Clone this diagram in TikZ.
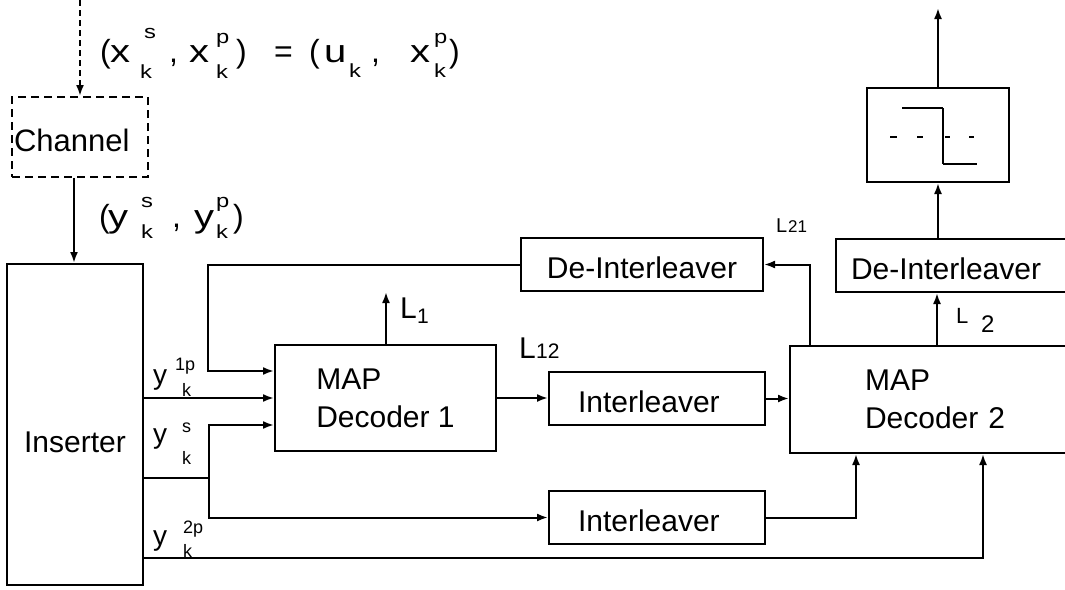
\documentclass[tikz,border=0pt]{standalone}
\usepackage{fontspec}
\usepackage{graphicx}
\setmainfont{Liberation Sans}
\usetikzlibrary{arrows.meta}
\newcommand\wx[1]{\scalebox{1.25}[1]{#1}}
\begin{document}
\begin{tikzpicture}[x=1pt,y=-1pt,
  every node/.style={inner sep=0pt},
  blk/.style={draw, line width=2pt, rectangle, font=\fontsize{30}{38}\selectfont},
  bt/.style={text height=27pt, text depth=0pt},
  g/.style={anchor=base west, inner sep=0pt, font=\fontsize{32}{34}\selectfont},
  sc/.style={anchor=base west, inner sep=0pt, font=\fontsize{19}{19}\selectfont},
  yl/.style={anchor=base west, inner sep=0pt, font=\fontsize{28}{30}\selectfont},
  ys/.style={anchor=base west, inner sep=0pt, font=\fontsize{18}{18}\selectfont},
  arr/.style={line width=2pt, -{Latex[length=11pt,width=8pt]}},
]
\clip (0,0) rectangle (1065,589);
% blocks
\node[blk, dashed, dash pattern=on 8pt off 5pt, minimum width=136pt, minimum height=80pt,
      text width=132pt, align=left, inner xsep=2pt, text height=28pt, text depth=0pt,
      font=\fontsize{31}{36}\selectfont] (chan) at (80,137) {Channel};
\node[blk, minimum width=136pt, minimum height=321pt, text height=55pt, text depth=0pt] (ins) at (75,424.5) {Inserter};
\node[blk, minimum width=221pt, minimum height=106pt, align=left] (map1) at (385.5,398) {MAP\\Decoder 1};
\node[blk, anchor=west, minimum height=107pt, text width=170pt, inner xsep=75pt, align=left] (map2) at (789,399.5) {MAP\\Decoder 2};
\node[blk, bt, minimum width=242pt, minimum height=53pt] (deint1) at (642,264.5) {De-Interleaver};
\node[blk, bt, anchor=west, minimum height=53pt, text width=230pt, inner xsep=15pt, align=left] (deint2) at (835,265.5) {De-Interleaver};
\node[blk, bt, anchor=west, minimum height=53pt, text width=186pt, inner xsep=15pt, align=left] (int1) at (548,398.5) {\hspace{14pt}Interleaver};
\node[blk, bt, anchor=west, minimum height=53pt, text width=186pt, inner xsep=15pt, align=left] (int2) at (548,517.5) {\hspace{14pt}Interleaver};
\node[blk, minimum width=142pt, minimum height=94pt] (dec) at (938,135) {};
% hard decision symbol
\draw[line width=2.2pt] (902,108) -- (943,108);
\draw[line width=2.8pt] (943,108) -- (943,164);
\draw[line width=2.2pt] (943,164) -- (977,164);
\foreach \a/\b in {890/897, 917/923, 945/950, 969/974}
  \draw[line width=2.2pt] (\a,137) -- (\b,137);
% connectors
\coordinate (src) at (79,0);
\coordinate (out) at (938,8);
\coordinate (l1) at (386,292);
\coordinate (jn) at (209,478);
\draw[arr, dash pattern=on 6pt off 4pt] (chan.north |- src) -- (chan.north);
\draw[arr] ([xshift=-6pt]chan.south) -- ([xshift=-6pt]chan.south |- ins.north);
\draw[arr] (deint1.west) -| ([xshift=-66pt,yshift=27pt]map1.west) -- ([yshift=27pt]map1.west);
\draw[arr] (ins.east |- map1.west) -- (map1.west);
\draw[arr] (ins.east |- jn) -- (jn) |- ([yshift=-27pt]map1.west);
\draw[arr] (jn) |- (int2.west);
\draw[arr] ([yshift=-133.5pt]ins.east) -| ([xshift=194pt]map2.south west);
\draw[arr] (map1.east) -- (map1.east -| int1.west);
\draw[arr] (int1.east) -- (int1.east -| map2.west);
\draw[arr] (int2.east) -| ([xshift=67pt]map2.south west);
\draw[arr] ([xshift=21pt]map2.north west) |- (deint1.east);
\draw[arr] ([xshift=148pt]map2.north west) -- ([xshift=148pt]map2.north west |- deint2.south);
\draw[arr] (dec.south |- deint2.north) -- (dec.south);
\draw[arr] (dec.north) -- (out);
\draw[arr] (map1.north -| l1) -- (l1);
% top formula
\node[g] (f1) at (100,62) {(};
\node[g] (f2) at (110,62) {\wx{x}};
\node[sc] (f3) at (144,38) {\wx{s}};
\node[sc] (f4) at (140,78) {\wx{k}};
\node[g] (f5) at (169,62) {,};
\node[g] (f6) at (189,62) {\wx{x}};
\node[sc] (f7) at (216,43) {\wx{p}};
\node[sc] (f8) at (216,78) {\wx{k}};
\node[g] (f9) at (236,62) {)};
\node[g] (f10) at (274,62) {=};
\node[g] (f11) at (309,62) {(};
\node[g] (f12) at (324,62) {\wx{u}};
\node[sc] (f13) at (349,77) {\wx{k}};
\node[g] (f14) at (371,62) {,};
\node[g] (f15) at (410,62) {\wx{x}};
\node[sc] (f16) at (434,43) {\wx{p}};
\node[sc] (f17) at (434,77) {\wx{k}};
\node[g] (f18) at (449,62) {)};
% channel output formula
\node[g] (h1) at (99,227) {(};
\node[g] (h2) at (108,227) {\wx{y}};
\node[sc] (h3) at (141,207) {\wx{s}};
\node[sc] (h4) at (141,238) {\wx{k}};
\node[g] (h5) at (172,227) {,};
\node[g] (h6) at (194,227) {\wx{y}};
\node[sc] (h7) at (216,207) {\wx{p}};
\node[sc] (h8) at (216,238) {\wx{k}};
\node[g] (h9) at (233,227) {)};
% inserter outputs
\node[yl] (a1) at (153,384) {y};
\node[ys] (a2) at (175,370) {1p};
\node[ys] (a3) at (182,396) {k};
\node[yl] (b1) at (153,443) {y};
\node[ys] (b2) at (182,432) {s};
\node[ys] (b3) at (182,464) {k};
\node[yl] (c1) at (153,545) {y};
\node[ys] (c2) at (183,533) {2p};
\node[ys] (c3) at (183,557) {k};
% L labels
\node[anchor=base west, font=\fontsize{30}{30}\selectfont] (la1) at (400,318) {L};
\node[anchor=base west, font=\fontsize{21}{21}\selectfont] (la2) at (417,323) {1};
\node[anchor=base west, font=\fontsize{30}{30}\selectfont] (lb1) at (519,358) {L};
\node[anchor=base west, font=\fontsize{21}{21}\selectfont] (lb2) at (536,358) {12};
\node[anchor=base west, font=\fontsize{20}{20}\selectfont] (lc1) at (776,232) {L};
\node[anchor=base west, font=\fontsize{17}{17}\selectfont] (lc2) at (788,232) {21};
\node[anchor=base west, font=\fontsize{22}{22}\selectfont] (ld1) at (956,323) {L};
\node[anchor=base west, font=\fontsize{24}{24}\selectfont] (ld2) at (981,332) {2};
\end{tikzpicture}
\end{document}
